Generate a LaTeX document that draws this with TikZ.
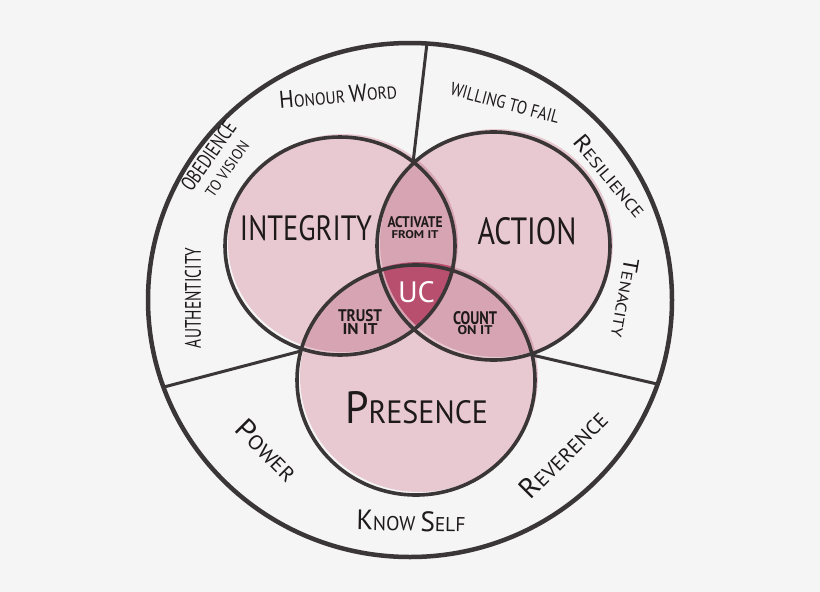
\documentclass[tikz,border=0pt]{standalone}
\usepackage{fontspec}
\setmainfont{PT Sans}
\usepackage{graphicx}
\definecolor{paper}{HTML}{F5F5F5}
\definecolor{ink}{HTML}{3A3536}
\definecolor{script}{HTML}{1E1A1B}
\definecolor{petal}{HTML}{E8C9D1}
\definecolor{overlap}{HTML}{D6A4B2}
\definecolor{heart}{HTML}{B84F6E}
\newcommand{\fitword}[3]{\pgfmathsetmacro{\wordsize}{#2*1.4}\resizebox{#1pt}{#2pt}{\fontsize{\wordsize pt}{\wordsize pt}\selectfont #3}}
\newcommand{\upini}[1]{\scalebox{1.4}{#1}}

\begin{document}
\begin{tikzpicture}[x=1pt, y=-1pt,
	venn/.style={draw=ink, line width=3.6pt},
	rim/.style={draw=ink, line width=4.5pt},
	divider/.style={draw=ink, line width=3pt, line cap=round},
	word/.style={inner sep=0pt, text=script}]

	\useasboundingbox (0,0) rectangle (820,592);
	\fill[paper] (0,0) rectangle (820,592);

	\coordinate (hub) at (410,300);
	\coordinate (cInt) at (340,246);
	\coordinate (cAct) at (493.5,246);
	\coordinate (cPre) at (416,380);

	% fills sit a little off the lines
	\begin{scope}[shift={(3,-3)}]
		\fill[petal] (340,246) ellipse [x radius=115pt, y radius=109pt];
		\fill[petal] (493.5,246) ellipse [x radius=116.5pt, y radius=114pt];
		\fill[petal] (416,380) ellipse [x radius=119pt, y radius=115pt];
		\begin{scope}
			\clip (340,246) ellipse [x radius=115pt, y radius=109pt];
			\fill[overlap] (493.5,246) ellipse [x radius=116.5pt, y radius=114pt];
			\fill[overlap] (416,380) ellipse [x radius=119pt, y radius=115pt];
		\end{scope}
		\begin{scope}
			\clip (493.5,246) ellipse [x radius=116.5pt, y radius=114pt];
			\fill[overlap] (416,380) ellipse [x radius=119pt, y radius=115pt];
			\clip (340,246) ellipse [x radius=115pt, y radius=109pt];
			\fill[heart] (416,380) ellipse [x radius=119pt, y radius=115pt];
		\end{scope}
	\end{scope}

	\coordinate (topRim) at (427,43);
	\coordinate (topMeet) at (413,163);
	\coordinate (leftRim) at (164,387);
	\coordinate (leftMeet) at (301,351);
	\coordinate (rightMeet) at (532,355);
	\coordinate (rightRim) at (657,384);
	\draw[divider] (topRim) -- (topMeet);
	\draw[divider] (leftRim) -- (leftMeet);
	\draw[divider] (rightMeet) -- (rightRim);

	\foreach \c/\a/\b in {cInt/115/109, cAct/116.5/114, cPre/119/115}
	{
		\draw[venn] (\c) ellipse [x radius=\a pt, y radius=\b pt];
	}
	\draw[rim] (hub) ellipse [x radius=262pt, y radius=257pt];

	\node[word] (integrity) at (306,228) {\fitword{132}{25}{INTEGRITY}};
	\node[word] (action) at (527,231) {\fitword{99}{27}{ACTION}};
	\node[word] (presence) at (416.5,408) {\fitword{143}{32}{\upini{P}RESENCE}};
	\node[word, text=white] (uc) at (416.5,292.5) {\fitword{37}{21}{UC}};
	\node[word, align=center, font=\fontsize{10}{11}\selectfont] (activate) at (415,228) {\fitword{55}{11}{\bfseries ACTIVATE}\\\fitword{47}{8}{\bfseries FROM IT}};
	\node[word, align=center, font=\fontsize{10}{13}\selectfont] (trust) at (360,322.5) {\fitword{44}{12}{\bfseries TRUST}\\\fitword{35}{11}{\bfseries IN IT}};
	\node[word, align=center, font=\fontsize{10}{10}\selectfont] (count) at (475,323.5) {\fitword{44}{13}{\bfseries COUNT}\\\fitword{35}{9}{\bfseries ON IT}};

	\node[word, rotate=5] (honour) at (338,95) {\fitword{118}{17}{\upini{H}ONOUR \upini{W}ORD}};
	\node[word, rotate=-15] (willing) at (505,103) {\fitword{112}{13}{WILLING TO FAIL}};
	\node[word, rotate=-50] (resilience) at (610,176) {\fitword{100}{16}{\upini{R}ESILIENCE}};
	\node[word, rotate=-100] (tenacity) at (625,298) {\fitword{80}{15}{\upini{T}ENACITY}};
	\node[word, rotate=90] (authenticity) at (193,298) {\fitword{100}{16}{AUTHENTICITY}};
	\node[word, rotate=55, align=center, font=\fontsize{10}{21}\selectfont] (obedience) at (217,162) {\fitword{80}{15}{OBEDIENCE}\\\fitword{64}{11}{TO VISION}};
	\node[word, rotate=-45] (power) at (267,450) {\fitword{75}{20}{\upini{P}OWER}};
	\node[word, rotate=-1] (knowself) at (411,521) {\fitword{109}{20}{\upini{K}NOW \upini{S}ELF}};
	\node[word, rotate=45] (reverence) at (563,454) {\fitword{112}{20}{\upini{R}EVERENCE}};

\end{tikzpicture}
\end{document}
